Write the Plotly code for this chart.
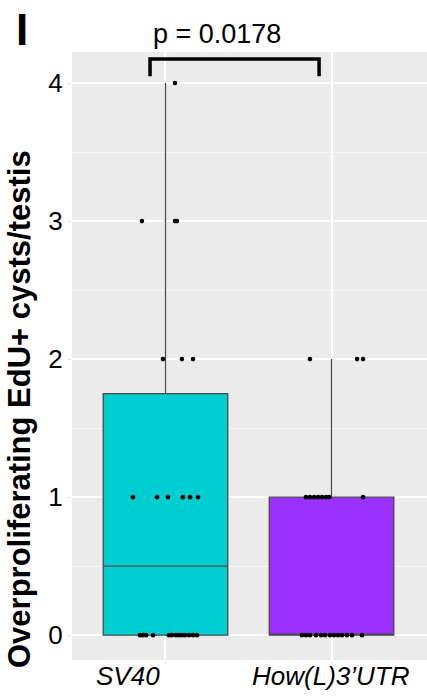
import numpy as np
import plotly.graph_objects as go

# Overproliferating EdU+ cysts per testis, one value per testis
groups = ["SV40", "How(L)3’UTR"]
sv40_counts = [0] * 13 + [1] * 6 + [2] * 3 + [3] * 3 + [4]
howl_counts = [0] * 13 + [1] * 8 + [2] * 3

# Horizontal jitter of each dot (category units), same order as the counts
sv40_jitter = [-0.153, -0.136, -0.117, -0.075, 0.021, 0.039, 0.063, 0.081, 0.099, 0.117, 0.142, 0.166, 0.190,
               -0.196, -0.051, 0.015, 0.105, 0.148, 0.196,
               -0.015, 0.099, 0.166,
               -0.142, 0.057, 0.069,
               0.057]
howl_jitter = [-0.178, -0.154, -0.130, -0.093, -0.063, -0.039, -0.009, 0.015, 0.039, 0.063, 0.093, 0.123, 0.184,
               -0.154, -0.130, -0.105, -0.081, -0.057, -0.033, -0.015, 0.190,
               -0.130, 0.154, 0.190]

fill_colors = ["#00CED1", "#9B30FF"]
p_label = "p = 0.0178"
y_ticks = [0, 1, 2, 3, 4]
y_title = "Overproliferating EdU+ cysts/testis"

FONT = "Liberation Sans, Arial, Helvetica, sans-serif"

# plot-area geometry in pixels (used to place free text in paper coordinates)
W, H = 427, 698
L, R, T, B = 72, 0, 52, 38
PW, PH = W - L - R, H - T - B


def px_to_paper(px, py):
    return (px - L) / PW, (H - B - py) / PH


def box_stats(values):
    v = np.asarray(values, dtype=float)
    q1, med, q3 = np.percentile(v, [25, 50, 75])
    iqr = q3 - q1
    lo = v[v >= q1 - 1.5 * iqr].min()
    hi = v[v <= q3 + 1.5 * iqr].max()
    return q1, med, q3, lo, hi


fig = go.Figure()

for i, (vals, jit) in enumerate([(sv40_counts, sv40_jitter), (howl_counts, howl_jitter)]):
    q1, med, q3, lo, hi = box_stats(vals)
    fig.add_trace(go.Box(
        x=[i], q1=[q1], median=[med], q3=[q3], lowerfence=[lo], upperfence=[hi],
        width=0.75, whiskerwidth=0, boxpoints=False,
        fillcolor=fill_colors[i], line=dict(color="#4a4a4a", width=1.3),
        showlegend=False, hoverinfo="skip",
    ))
    fig.add_trace(go.Scatter(
        x=[i + j for j in jit], y=vals, mode="markers",
        marker=dict(color="black", size=4.6),
        showlegend=False, hoverinfo="skip",
    ))

# significance bracket between the two groups
bx0, bx1 = -0.093, 0.925
by_top, by_leg = 4.174, 4.05
fig.add_shape(type="path",
              path=f"M {bx0},{by_leg} L {bx0},{by_top} L {bx1},{by_top} L {bx1},{by_leg}",
              xref="x", yref="y", line=dict(color="black", width=3.5), layer="above")

px, py = px_to_paper(217, 34)
fig.add_annotation(x=px, y=py, xref="paper", yref="paper", text=p_label, showarrow=False,
                   font=dict(family=FONT, size=27, color="black"),
                   xanchor="center", yanchor="middle")

# panel letter
px, py = px_to_paper(22, 29)
fig.add_annotation(x=px, y=py, xref="paper", yref="paper", text="<b>I</b>",
                   showarrow=False, font=dict(family=FONT, size=44, color="black"),
                   xanchor="center", yanchor="middle")

# category labels under the panel
for cx, text in zip([128, 330], groups):
    px, py = px_to_paper(cx, 676)
    fig.add_annotation(x=px, y=py, xref="paper", yref="paper", text=f"<i>{text}</i>",
                       showarrow=False, font=dict(family=FONT, size=26, color="black"),
                       xanchor="center", yanchor="middle")

# y-axis title
px, py = px_to_paper(19, 409)
fig.add_annotation(x=px, y=py, xref="paper", yref="paper", text=f"<b>{y_title}</b>",
                   textangle=-90, showarrow=False,
                   font=dict(family=FONT, size=31, color="black"),
                   xanchor="center", yanchor="middle")

fig.update_layout(
    width=W, height=H,
    margin=dict(l=L, r=R, t=T, b=B),
    paper_bgcolor="white", plot_bgcolor="#EBEBEB",
    font=dict(family=FONT, color="black"),
    xaxis=dict(
        range=[-0.563, 1.575], tickvals=[0, 1], showticklabels=False,
        showgrid=True, gridcolor="white", gridwidth=1.5, zeroline=False,
        ticks="outside", ticklen=3, tickcolor="#e0e0e0", showline=False,
    ),
    yaxis=dict(
        range=[-0.18, 4.225], tickvals=y_ticks,
        tickfont=dict(family=FONT, size=26, color="black"),
        showgrid=True, gridcolor="white", gridwidth=1.5, zeroline=False,
        ticks="outside", ticklen=3, tickcolor="#e0e0e0",
        minor=dict(tickvals=[0.5, 1.5, 2.5, 3.5], showgrid=True, gridcolor="#F7F7F7", gridwidth=0.8),
    ),
)

fig.write_html("out.html")
